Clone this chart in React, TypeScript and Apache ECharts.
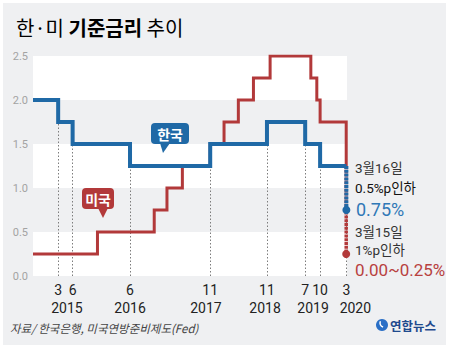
import React, { useEffect, useRef } from 'react';
import * as echarts from 'echarts';

// Korea base rate (Bank of Korea)
const koreaDates = ['2014-10-01', '2015-03-10', '2015-06-10', '2016-06-09', '2017-11-01', '2018-10-28', '2019-06-28', '2019-10-01', '2020-03-16'];
const koreaRates = [2.0, 1.75, 1.5, 1.25, 1.5, 1.75, 1.5, 1.25, 0.75];

// US federal funds rate (upper bound)
const usDates = ['2014-10-01', '2015-11-15', '2016-11-10', '2017-01-30', '2017-05-08', '2017-11-01', '2018-01-28', '2018-04-29', '2018-08-03', '2018-11-17', '2019-08-03', '2019-09-10', '2019-10-01', '2020-03-15', '2020-03-15'];
const usRates = [0.25, 0.5, 0.75, 1.0, 1.25, 1.5, 1.75, 2.0, 2.25, 2.5, 2.25, 2.0, 1.75, 1.25, 0.25];

// x-axis tick labels (at Korean rate-change dates, koreaDates[1..])
const tickMonths = ['3', '6', '6', '11', '11', '7', '10', '3'];
const yearLabels = ['2015', '2016', '2017', '2018', '2019', '2020'];
const yearDates = ['2015-05-05', '2016-06-09', '2017-10-05', '2018-10-16', '2019-08-17', '2020-03-16'];

const yTicks = [0, 0.5, 1.0, 1.5, 2.0, 2.5];

const xMin = '2014-10-01';
const xMax = '2020-03-20';

const BLUE = '#1f69a6';
const RED = '#b2393a';

const ts = (s: string) => {
  const [y, m, d] = s.split('-').map(Number);
  return new Date(y, m - 1, d).getTime();
};

export default function App() {
  const ref = useRef<HTMLDivElement>(null);
  useEffect(() => {
    document.body.style.margin = '0';
    const chart = echarts.init(ref.current!, null, { renderer: 'svg' });

    const nK = koreaDates.length;
    const koreaMain = koreaDates.slice(0, nK - 1).map((d, i) => [ts(d), koreaRates[i]]);
    koreaMain.push([ts(koreaDates[nK - 1]), koreaRates[nK - 2]]);
    const koreaDrop = [
      [ts(koreaDates[nK - 1]), koreaRates[nK - 2]],
      { value: [ts(koreaDates[nK - 1]), koreaRates[nK - 1]], symbol: 'circle', symbolSize: 8 },
    ];

    const nU = usDates.length;
    const usMain = usDates.slice(0, nU - 1).map((d, i) => [ts(d), usRates[i]]);
    const usDrop = [
      [ts(usDates[nU - 1]), usRates[nU - 2]],
      { value: [ts(usDates[nU - 1]), usRates[nU - 1]], symbol: 'circle', symbolSize: 8 },
    ];

    const guides = koreaDates.slice(1).map((d, i) => ({
      coords: [
        [ts(d), 0],
        [ts(d), Math.min(koreaRates[i], koreaRates[i + 1])],
      ],
    }));

    const tickVals = koreaDates.slice(1).map(ts);
    const yearVals = yearDates.map(ts);

    chart.setOption({
      animation: false,
      backgroundColor: '#ffffff',
      textStyle: { fontFamily: "Roboto, 'Noto Sans CJK KR', sans-serif" },
      grid: { left: 33, right: 103, top: 56, bottom: 74, containLabel: false },
      xAxis: [
        {
          type: 'value',
          min: ts(xMin),
          max: ts(xMax),
          axisLine: { show: false },
          axisTick: { show: false },
          splitLine: { show: false },
          axisLabel: {
            customValues: tickVals,
            hideOverlap: false,
            showMinLabel: true,
            showMaxLabel: true,
            color: '#222',
            fontSize: 14,
            margin: 7,
            formatter: (v: number) => {
              const i = tickVals.findIndex((t) => Math.abs(t - v) < 86400000);
              return i >= 0 ? tickMonths[i] : '';
            },
          },
        },
        {
          type: 'value',
          position: 'bottom',
          offset: 18,
          min: ts(xMin),
          max: ts(xMax),
          axisLine: { show: false },
          axisTick: { show: false },
          splitLine: { show: false },
          axisLabel: {
            customValues: yearVals,
            hideOverlap: false,
            showMinLabel: true,
            showMaxLabel: true,
            color: '#222',
            fontSize: 14,
            margin: 7,
            formatter: (v: number) => {
              const i = yearVals.findIndex((t) => Math.abs(t - v) < 86400000);
              if (i < 0) return '';
              return i === yearVals.length - 1 ? '{r|' + yearLabels[i] + '}' : yearLabels[i];
            },
            rich: {
              r: { fontSize: 14, color: '#222', padding: [0, 0, 0, 18] },
            },
          },
        },
      ],
      yAxis: {
        type: 'value',
        min: 0,
        max: 2.5,
        interval: 0.5,
        axisLine: { show: false },
        axisTick: { show: false },
        splitLine: { show: false },
        splitArea: { show: true, areaStyle: { color: ['#ffffff', '#eff0f2'] } },
        axisLabel: {
          color: '#a3a3a3',
          fontSize: 11,
          margin: 5,
          formatter: (v: number) => (yTicks.includes(v) ? v.toFixed(1) : ''),
        },
      },
      series: [
        {
          type: 'lines',
          coordinateSystem: 'cartesian2d',
          silent: true,
          z: 1,
          lineStyle: { color: '#7d7d7d', width: 1, type: [1.5, 2], opacity: 1 },
          data: guides,
        },
        {
          name: '미국',
          type: 'line',
          step: 'end',
          showSymbol: false,
          z: 3,
          data: usMain,
          lineStyle: { color: RED, width: 3, join: 'miter', cap: 'butt' },
          itemStyle: { color: RED },
        },
        {
          name: '미국 인하',
          type: 'line',
          symbol: 'none',
          showSymbol: true,
          z: 3,
          data: usDrop,
          lineStyle: { color: RED, width: 3.5, type: [3, 0.8], cap: 'butt' },
          itemStyle: { color: RED },
        },
        {
          name: '한국',
          type: 'line',
          step: 'end',
          showSymbol: false,
          z: 4,
          data: koreaMain,
          lineStyle: { color: BLUE, width: 4, join: 'miter', cap: 'butt' },
          itemStyle: { color: BLUE },
        },
        {
          name: '한국 인하',
          type: 'line',
          symbol: 'none',
          showSymbol: true,
          z: 5,
          data: koreaDrop,
          lineStyle: { color: BLUE, width: 4, type: [3, 0.8], cap: 'butt' },
          itemStyle: { color: BLUE },
        },
      ],
      graphic: [
        { type: 'rect', z: -100, silent: true, shape: { x: 3, y: 3, width: 443, height: 342 }, style: { fill: '#eff0f2' } },
        {
          type: 'text',
          x: 16,
          y: 27,
          style: {
            text: '{n|한·미 }{b|기준금리}{n| 추이}',
            verticalAlign: 'middle',
            rich: {
              n: { fontSize: 20, color: '#444', fontFamily: "'Noto Sans CJK KR', sans-serif" },
              b: { fontSize: 20, color: '#1a1a1a', fontWeight: 'bold', fontFamily: "'Noto Sans CJK KR', sans-serif" },
            },
          },
        },
        // 한국 bubble
        { type: 'rect', z: 10, shape: { x: 151, y: 123, width: 38, height: 21, r: 4 }, style: { fill: BLUE } },
        { type: 'polygon', z: 10, shape: { points: [[160, 143], [170, 143], [163, 153]] }, style: { fill: BLUE } },
        {
          type: 'text', z: 11, x: 170, y: 133.5,
          style: { text: '한국', fill: '#fff', fontSize: 14, fontWeight: 'bold', align: 'center', verticalAlign: 'middle', fontFamily: "'Noto Sans CJK KR', sans-serif" },
        },
        // 미국 bubble
        { type: 'rect', z: 10, shape: { x: 82, y: 188, width: 32, height: 21, r: 4 }, style: { fill: RED } },
        { type: 'polygon', z: 10, shape: { points: [[98, 208], [108, 208], [103, 218]] }, style: { fill: RED } },
        {
          type: 'text', z: 11, x: 98, y: 198.5,
          style: { text: '미국', fill: '#fff', fontSize: 14, fontWeight: 'bold', align: 'center', verticalAlign: 'middle', fontFamily: "'Noto Sans CJK KR', sans-serif" },
        },
        // annotations
        { type: 'text', x: 355, y: 168, style: { text: '3월16일', fill: '#333', fontSize: 13.5, verticalAlign: 'middle', fontFamily: "Roboto, 'Noto Sans CJK KR', sans-serif" } },
        { type: 'text', x: 355, y: 188, style: { text: '0.5%p인하', fill: '#111', fontSize: 13.5, verticalAlign: 'middle', fontFamily: "Roboto, 'Noto Sans CJK KR', sans-serif" } },
        { type: 'text', x: 356, y: 209, style: { text: '0.75%', fill: '#2f78b7', fontSize: 18, verticalAlign: 'middle', fontFamily: 'Roboto, sans-serif' } },
        { type: 'text', x: 355, y: 232, style: { text: '3월15일', fill: '#333', fontSize: 13.5, verticalAlign: 'middle', fontFamily: "Roboto, 'Noto Sans CJK KR', sans-serif" } },
        { type: 'text', x: 355, y: 250, style: { text: '1%p인하', fill: '#333', fontSize: 13.5, verticalAlign: 'middle', fontFamily: "Roboto, 'Noto Sans CJK KR', sans-serif" } },
        { type: 'text', x: 355, y: 270, style: { text: '0.00~0.25%', fill: '#b8413f', fontSize: 17, verticalAlign: 'middle', fontFamily: 'Roboto, sans-serif' } },
        // source
        {
          type: 'text', x: 10, y: 328,
          style: { text: '자료/ 한국은행, 미국연방준비제도(Fed)', fill: '#444', fontSize: 11.5, fontStyle: 'italic', verticalAlign: 'middle', fontFamily: "'Noto Sans CJK KR', sans-serif" },
        },
        // logo
        { type: 'circle', shape: { cx: 382, cy: 325, r: 6 }, style: { fill: '#2a6fc6' } },
        { type: 'arc', shape: { cx: 384, cy: 323, r: 4, startAngle: 1.8, endAngle: 3.6 }, style: { stroke: '#ffffff', lineWidth: 1.5, fill: 'none' } },
        {
          type: 'text', x: 390, y: 325,
          style: { text: '연합뉴스', fill: '#1f4a8e', fontSize: 12.5, fontWeight: 'bold', verticalAlign: 'middle', fontFamily: "'Noto Sans CJK KR', sans-serif" },
        },
      ],
    });
    return () => chart.dispose();
  }, []);
  return <div ref={ref} style={{ width: 450, height: 350 }} />;
}
